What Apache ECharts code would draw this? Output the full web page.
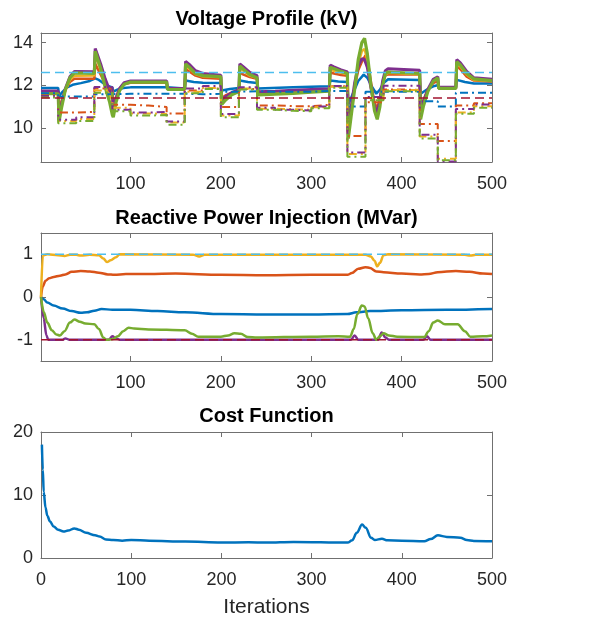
<!DOCTYPE html>
<html>
<head>
<meta charset="utf-8">
<script src="https://cdn.jsdelivr.net/npm/echarts@6/dist/echarts.min.js"></script>
<style>
    html, body {margin: 0; padding: 0; background: #fff;}
    #main {width: 603px; height: 621px;}
</style>
</head>
<body>
<div id="main"></div>
<script>
// 刻度
let xTicks = [100, 200, 300, 400, 500], costXTicks = [0, 100, 200, 300, 400, 500];
let vTicks = [10, 12, 14], qTicks = [-1, 0, 1];

// 电压 实线 [迭代, kV]
let vBlue = [[1, 11.87], [20, 11.87], [21, 11.5], [25, 11.7], [30, 11.9], [36, 12.02], [45, 12.1], [55, 12.2], [61, 12.32], [65, 12.25], [70, 12.1], [76, 11.95], [80, 11.9], [81, 11.7], [86, 11.8], [92, 11.87], [100, 11.9], [140, 11.9], [141, 11.85], [160, 11.85], [161, 12.22], [170, 12.15], [180, 12.12], [200, 12.1], [201, 11.75], [210, 11.82], [220, 11.87], [221, 12.22], [230, 12.15], [240, 12.1], [241, 11.85], [280, 11.9], [320, 11.95], [321, 12.22], [330, 12.18], [340, 12.15], [341, 11.1], [346, 11.6], [352, 12.2], [358, 12.5], [362, 12.35], [367, 11.95], [372, 11.6], [376, 11.8], [380, 12.1], [385, 12.28], [420, 12.25], [421, 11.6], [428, 11.8], [435, 11.95], [440, 12.0], [441, 11.9], [460, 11.9], [461, 12.25], [470, 12.15], [480, 12.08], [500, 12.08]];
let vOrange = [[1, 11.68], [20, 11.68], [21, 10.85], [24, 11.3], [28, 11.8], [33, 12.15], [38, 12.3], [40, 12.35], [60, 12.3], [61, 13.0], [63, 12.95], [67, 12.5], [72, 12.05], [77, 11.8], [80, 11.7], [81, 11.0], [84, 11.45], [88, 11.85], [93, 12.05], [100, 12.12], [140, 12.12], [141, 11.85], [160, 11.85], [161, 12.75], [165, 12.65], [172, 12.45], [180, 12.35], [181, 12.32], [200, 12.3], [201, 11.4], [205, 11.52], [212, 11.65], [220, 11.75], [221, 12.6], [225, 12.5], [232, 12.38], [240, 12.3], [241, 11.62], [260, 11.65], [280, 11.7], [300, 11.74], [320, 11.78], [321, 12.6], [325, 12.55], [333, 12.48], [340, 12.45], [341, 10.0], [344, 10.9], [348, 11.9], [352, 12.7], [356, 13.1], [360, 13.4], [363, 13.0], [367, 11.9], [370, 11.2], [373, 10.9], [376, 11.4], [379, 12.1], [382, 12.45], [385, 12.52], [420, 12.5], [421, 10.9], [424, 11.3], [429, 11.8], [435, 12.1], [440, 12.2], [441, 11.85], [460, 11.85], [461, 12.9], [465, 12.75], [472, 12.4], [480, 12.22], [481, 12.2], [500, 12.18]];
let vYellow = [[1, 11.63], [20, 11.63], [21, 10.7], [24, 11.2], [28, 11.75], [33, 12.25], [38, 12.45], [40, 12.5], [60, 12.46], [61, 13.45], [63, 13.4], [67, 12.7], [72, 12.0], [77, 11.5], [80, 11.35], [81, 10.75], [84, 11.35], [88, 11.8], [93, 12.05], [100, 12.15], [140, 12.15], [141, 11.82], [160, 11.82], [161, 12.9], [165, 12.78], [172, 12.52], [180, 12.42], [181, 12.4], [200, 12.38], [201, 11.2], [205, 11.38], [212, 11.58], [220, 11.72], [221, 12.8], [225, 12.68], [232, 12.45], [240, 12.35], [241, 11.6], [260, 11.63], [280, 11.67], [300, 11.72], [320, 11.75], [321, 12.75], [325, 12.68], [333, 12.58], [340, 12.52], [341, 9.7], [344, 10.7], [348, 11.85], [352, 13.0], [356, 13.6], [359, 13.7], [362, 13.2], [366, 11.9], [370, 11.0], [373, 10.6], [376, 11.15], [379, 12.05], [382, 12.5], [385, 12.58], [420, 12.52], [421, 10.6], [424, 11.1], [429, 11.75], [435, 12.2], [440, 12.3], [441, 11.85], [460, 11.85], [461, 13.0], [465, 12.88], [472, 12.5], [480, 12.25], [481, 12.23], [500, 12.2]];
let vPurple = [[1, 11.73], [20, 11.73], [21, 10.55], [24, 11.15], [28, 11.85], [33, 12.4], [38, 12.65], [40, 12.72], [60, 12.63], [61, 13.72], [63, 13.65], [67, 13.0], [72, 12.3], [77, 11.75], [80, 11.6], [81, 10.8], [84, 11.35], [88, 11.85], [93, 12.12], [100, 12.2], [140, 12.2], [141, 11.85], [160, 11.85], [161, 13.12], [165, 12.98], [172, 12.68], [180, 12.55], [181, 12.5], [200, 12.47], [201, 11.3], [205, 11.45], [212, 11.65], [220, 11.8], [221, 13.0], [225, 12.86], [232, 12.6], [240, 12.45], [241, 11.7], [260, 11.72], [280, 11.76], [300, 11.8], [320, 11.84], [321, 12.95], [325, 12.86], [333, 12.72], [340, 12.62], [341, 9.85], [344, 10.9], [348, 12.1], [352, 12.9], [356, 13.25], [359, 13.2], [362, 12.85], [366, 11.9], [370, 11.0], [373, 10.7], [376, 11.3], [379, 12.2], [382, 12.68], [385, 12.77], [420, 12.7], [421, 10.7], [424, 11.2], [429, 11.8], [435, 12.28], [440, 12.4], [441, 11.9], [460, 11.9], [461, 13.2], [465, 13.05], [472, 12.65], [480, 12.35], [481, 12.3], [500, 12.28]];
let vGreen = [[1, 11.6], [20, 11.6], [21, 10.3], [24, 11.0], [28, 11.8], [33, 12.35], [38, 12.58], [40, 12.62], [60, 12.55], [61, 13.6], [63, 13.55], [67, 12.8], [72, 11.9], [77, 11.2], [80, 10.6], [81, 10.5], [84, 11.2], [88, 11.75], [93, 12.05], [100, 12.15], [140, 12.15], [141, 11.8], [160, 11.8], [161, 13.0], [165, 12.85], [172, 12.55], [180, 12.45], [200, 12.4], [201, 11.1], [205, 11.3], [212, 11.55], [220, 11.7], [221, 12.9], [225, 12.75], [232, 12.5], [240, 12.35], [241, 11.55], [260, 11.58], [280, 11.62], [300, 11.68], [320, 11.72], [321, 12.85], [325, 12.78], [333, 12.65], [340, 12.55], [341, 9.5], [344, 10.5], [348, 11.8], [352, 13.2], [356, 14.0], [359, 14.2], [362, 13.5], [366, 12.0], [370, 10.8], [373, 10.4], [376, 11.0], [379, 12.0], [382, 12.55], [385, 12.62], [420, 12.55], [421, 10.4], [424, 11.0], [429, 11.7], [435, 12.2], [440, 12.35], [441, 11.85], [460, 11.85], [461, 13.1], [465, 12.95], [472, 12.55], [480, 12.3], [481, 12.25], [500, 12.22]];

// 电压 点划线 (每段电平)
let ddSteps = [1, 20, 40, 60, 80, 100, 120, 140, 160, 180, 200, 220, 240, 260, 280, 300, 320, 340, 360, 380, 400, 420, 440, 460, 480];
let ddBlue = [11.62, 11.47, 11.47, 11.58, 11.6, 11.6, 11.6, 11.6, 11.58, 11.6, 11.7, 11.72, 11.7, 11.7, 11.7, 11.73, 11.73, 11.0, 11.7, 11.7, 11.7, 11.25, 11.0, 11.65, 11.65];
let ddOrange = [11.52, 10.72, 10.75, 11.85, 11.08, 11.05, 10.98, 10.68, 11.75, 11.85, 10.98, 11.82, 11.05, 11.02, 11.02, 11.08, 11.95, 9.62, 11.2, 11.8, 11.78, 10.18, 9.38, 11.05, 11.15];
let ddYellow = [11.48, 10.32, 10.42, 11.75, 10.95, 10.68, 10.65, 10.25, 11.7, 11.87, 10.58, 11.85, 10.9, 10.88, 10.85, 10.97, 11.93, 8.78, 11.4, 11.78, 11.78, 9.6, 8.55, 10.72, 11.02];
let ddPurple = [11.5, 10.38, 10.5, 11.92, 10.85, 10.72, 10.75, 10.3, 11.85, 11.97, 10.65, 11.9, 10.95, 10.85, 10.82, 11.0, 11.97, 8.85, 11.45, 11.98, 11.98, 9.68, 8.42, 10.88, 11.1];
let ddGreen = [11.42, 10.22, 10.32, 11.65, 10.78, 10.58, 10.6, 10.15, 11.62, 11.82, 10.5, 11.8, 10.85, 10.8, 10.78, 10.92, 11.88, 8.65, 11.3, 11.72, 11.72, 9.5, 8.48, 10.66, 10.95];
let vLimits = [12.6, 11.4];

// 无功注入
let qYellow = [[1, 0], [3, 0.97], [8, 1.0], [20, 0.98], [27, 0.96], [33, 0.99], [40, 0.99], [45, 0.97], [55, 0.99], [65, 0.98], [70, 0.9], [74, 0.82], [78, 0.86], [84, 0.93], [88, 1.0], [170, 0.99], [176, 0.95], [182, 0.99], [300, 0.99], [360, 0.99], [366, 0.95], [370, 0.85], [373, 0.72], [376, 0.8], [380, 0.98], [385, 1.0], [470, 0.99], [476, 0.97], [482, 0.99], [500, 0.99]];
let qOrange = [[1, 0], [3, 0.25], [6, 0.38], [10, 0.44], [15, 0.47], [22, 0.5], [28, 0.53], [35, 0.59], [45, 0.61], [55, 0.6], [65, 0.57], [75, 0.53], [82, 0.52], [95, 0.54], [120, 0.54], [150, 0.55], [200, 0.52], [250, 0.51], [300, 0.52], [340, 0.52], [345, 0.56], [352, 0.66], [360, 0.7], [365, 0.68], [372, 0.6], [380, 0.58], [400, 0.55], [420, 0.53], [430, 0.54], [440, 0.58], [460, 0.61], [475, 0.59], [490, 0.55], [500, 0.54]];
let qBlue = [[1, 0], [4, -0.05], [8, -0.13], [15, -0.2], [25, -0.27], [35, -0.33], [45, -0.37], [52, -0.36], [60, -0.32], [68, -0.28], [80, -0.3], [100, -0.3], [130, -0.33], [160, -0.36], [200, -0.4], [250, -0.41], [300, -0.41], [340, -0.4], [350, -0.36], [365, -0.33], [400, -0.31], [450, -0.3], [500, -0.28]];
let qPurple = [[1, 0], [4, -0.5], [7, -0.9], [9, -1.0], [25, -1.0], [28, -0.97], [32, -1.0], [76, -1.0], [80, -0.92], [84, -0.97], [88, -1.0], [344, -1.0], [348, -0.9], [352, -1.0], [374, -1.0], [378, -0.83], [382, -0.95], [386, -1.0], [424, -1.0], [428, -0.92], [432, -1.0], [500, -1.0]];
let qGreen = [[1, 0], [4, -0.35], [8, -0.6], [13, -0.78], [18, -0.88], [22, -0.9], [27, -0.8], [33, -0.6], [38, -0.53], [44, -0.58], [50, -0.62], [60, -0.64], [65, -0.75], [70, -0.95], [73, -1.0], [80, -0.99], [86, -0.92], [92, -0.8], [98, -0.72], [104, -0.74], [120, -0.76], [160, -0.78], [168, -0.86], [175, -0.93], [200, -0.93], [208, -0.9], [215, -0.85], [222, -0.86], [230, -0.94], [240, -0.95], [300, -0.93], [330, -0.92], [343, -0.93], [347, -0.75], [351, -0.4], [356, -0.2], [359, -0.22], [363, -0.5], [368, -0.85], [372, -1.0], [376, -0.92], [380, -0.85], [386, -0.9], [395, -0.93], [425, -0.94], [430, -0.8], [435, -0.6], [440, -0.55], [448, -0.64], [462, -0.64], [470, -0.8], [476, -0.93], [490, -0.92], [500, -0.9]];
let qLimits = [1, -1];

// 代价函数
let cost = [[1, 18], [2, 14], [3, 10.5], [5, 8], [7, 6.7], [10, 5.8], [14, 5.0], [19, 4.5], [25, 4.2], [30, 4.35], [37, 4.7], [42, 4.5], [50, 4.0], [60, 3.6], [65, 3.4], [72, 2.95], [80, 2.85], [90, 2.75], [100, 2.85], [120, 2.75], [160, 2.6], [200, 2.45], [230, 2.5], [250, 2.45], [280, 2.55], [340, 2.45], [345, 2.8], [350, 4.0], [356, 5.3], [360, 4.8], [366, 3.2], [370, 2.85], [378, 3.05], [384, 2.8], [400, 2.75], [425, 2.65], [432, 3.0], [440, 3.6], [450, 3.35], [465, 3.2], [472, 2.85], [480, 2.7], [500, 2.65]];

let C = {blue: '#0072BD', orange: '#D95319', yellow: '#EDB120', purple: '#7E2F8E', green: '#77AC30', cyan: '#4DBEEE', maroon: '#A2142F'};
let boxColor = '#707070', textColor = '#262626', font = 'Liberation Sans';

// 坐标轴
function xAxisOf(grid, pos, min, ticks, label) {
    return {
        type: 'value', gridIndex: grid, position: pos, min: min, max: 500,
        axisLine: {show: true, onZero: false, lineStyle: {color: boxColor, width: 1}},
        axisTick: {show: true, inside: true, length: 5, customValues: ticks, lineStyle: {color: boxColor}},
        axisLabel: {show: label, customValues: ticks, margin: 13, fontSize: 18, fontFamily: font, color: textColor},
        splitLine: {show: false}
    };
}
function yAxisOf(grid, pos, min, max, ticks, label) {
    return {
        type: 'value', gridIndex: grid, position: pos, min: min, max: max,
        axisLine: {show: true, onZero: false, lineStyle: {color: boxColor, width: 1}},
        axisTick: {show: true, inside: true, length: 5, customValues: ticks, lineStyle: {color: boxColor}},
        axisLabel: {show: label, customValues: ticks, margin: 8, fontSize: 18, fontFamily: font, color: textColor},
        splitLine: {show: false}
    };
}

function solid(data, color, width, axis) {
    return {type: 'line', data: data, xAxisIndex: axis, yAxisIndex: axis, showSymbol: false, silent: true,
        lineStyle: {color: color, width: width}, z: 2};
}
function smoothLine(data, color, width, axis) {
    let s = solid(data, color, width, axis);
    s.smooth = 0.35;
    s.smoothMonotone = 'x';
    return s;
}
function dashDot(levels, color) {
    let data = ddSteps.map(function (t, i) { return [t, levels[i]]; });
    data.push([500, levels[levels.length - 1]]);
    return {type: 'line', data: data, step: 'end', xAxisIndex: 0, yAxisIndex: 0, showSymbol: false, silent: true,
        lineStyle: {color: color, width: 2, type: [8, 4, 2, 4]}, z: 3};
}
function limitLine(value, color, axis) {
    return {type: 'line', data: [[1, value], [500, value]], xAxisIndex: axis, yAxisIndex: axis, showSymbol: false,
        silent: true, lineStyle: {color: color, width: 1.5, type: [9, 5]}, z: 4};
}
function label(text, x, y, weight, size) {
    return {type: 'text', x: x, y: y, z: 10, style: {text: text, fill: weight === 'bold' ? '#000' : textColor,
        font: weight + ' ' + size + 'px "' + font + '"', textAlign: 'center', textVerticalAlign: 'middle',
        align: 'center', verticalAlign: 'middle'}};
}

let myChart = echarts.init(document.getElementById('main'), null, {renderer: 'canvas'});
let option = {
    animation: false,
    backgroundColor: '#fff',
    grid: [
        {left: 41, top: 33, width: 451, height: 129},
        {left: 41, top: 233, width: 451, height: 128},
        {left: 41, top: 432, width: 451, height: 126}
    ],
    xAxis: [
        xAxisOf(0, 'bottom', 1, xTicks, true), xAxisOf(0, 'top', 1, xTicks, false),
        xAxisOf(1, 'bottom', 1, xTicks, true), xAxisOf(1, 'top', 1, xTicks, false),
        xAxisOf(2, 'bottom', 0, costXTicks, true), xAxisOf(2, 'top', 0, costXTicks, false)
    ],
    yAxis: [
        yAxisOf(0, 'left', 8.4, 14.45, vTicks, true), yAxisOf(0, 'right', 8.4, 14.45, vTicks, false),
        yAxisOf(1, 'left', -1.5, 1.5, qTicks, true), yAxisOf(1, 'right', -1.5, 1.5, qTicks, false),
        yAxisOf(2, 'left', 0, 20, [0, 10, 20], true), yAxisOf(2, 'right', 0, 20, [0, 10, 20], false)
    ],
    graphic: [
        label('Voltage Profile (kV)', 266.5, 19, 'bold', 20),
        label('Reactive Power Injection (MVar)', 266.5, 218, 'bold', 20),
        label('Cost Function', 266.5, 416, 'bold', 20),
        label('Iterations', 266.5, 607, 'normal', 21)
    ],
    series: [
        solid(vBlue, C.blue, 2.5, 0),
        solid(vOrange, C.orange, 2.5, 0),
        solid(vYellow, C.yellow, 2.5, 0),
        solid(vPurple, C.purple, 3, 0),
        solid(vGreen, C.green, 3.2, 0),
        dashDot(ddBlue, C.blue),
        dashDot(ddOrange, C.orange),
        dashDot(ddYellow, C.yellow),
        dashDot(ddPurple, C.purple),
        dashDot(ddGreen, C.green),
        limitLine(vLimits[0], C.cyan, 0),
        limitLine(vLimits[1], C.maroon, 0),

        smoothLine(qBlue, C.blue, 2.5, 2),
        smoothLine(qOrange, C.orange, 2.5, 2),
        smoothLine(qYellow, C.yellow, 2.5, 2),
        smoothLine(qPurple, C.purple, 2.5, 2),
        smoothLine(qGreen, C.green, 2.5, 2),
        limitLine(qLimits[0], C.cyan, 2),
        limitLine(qLimits[1], C.maroon, 2),

        smoothLine(cost, C.blue, 2.5, 4)
    ]
};
myChart.setOption(option);
</script>
</body>
</html>
